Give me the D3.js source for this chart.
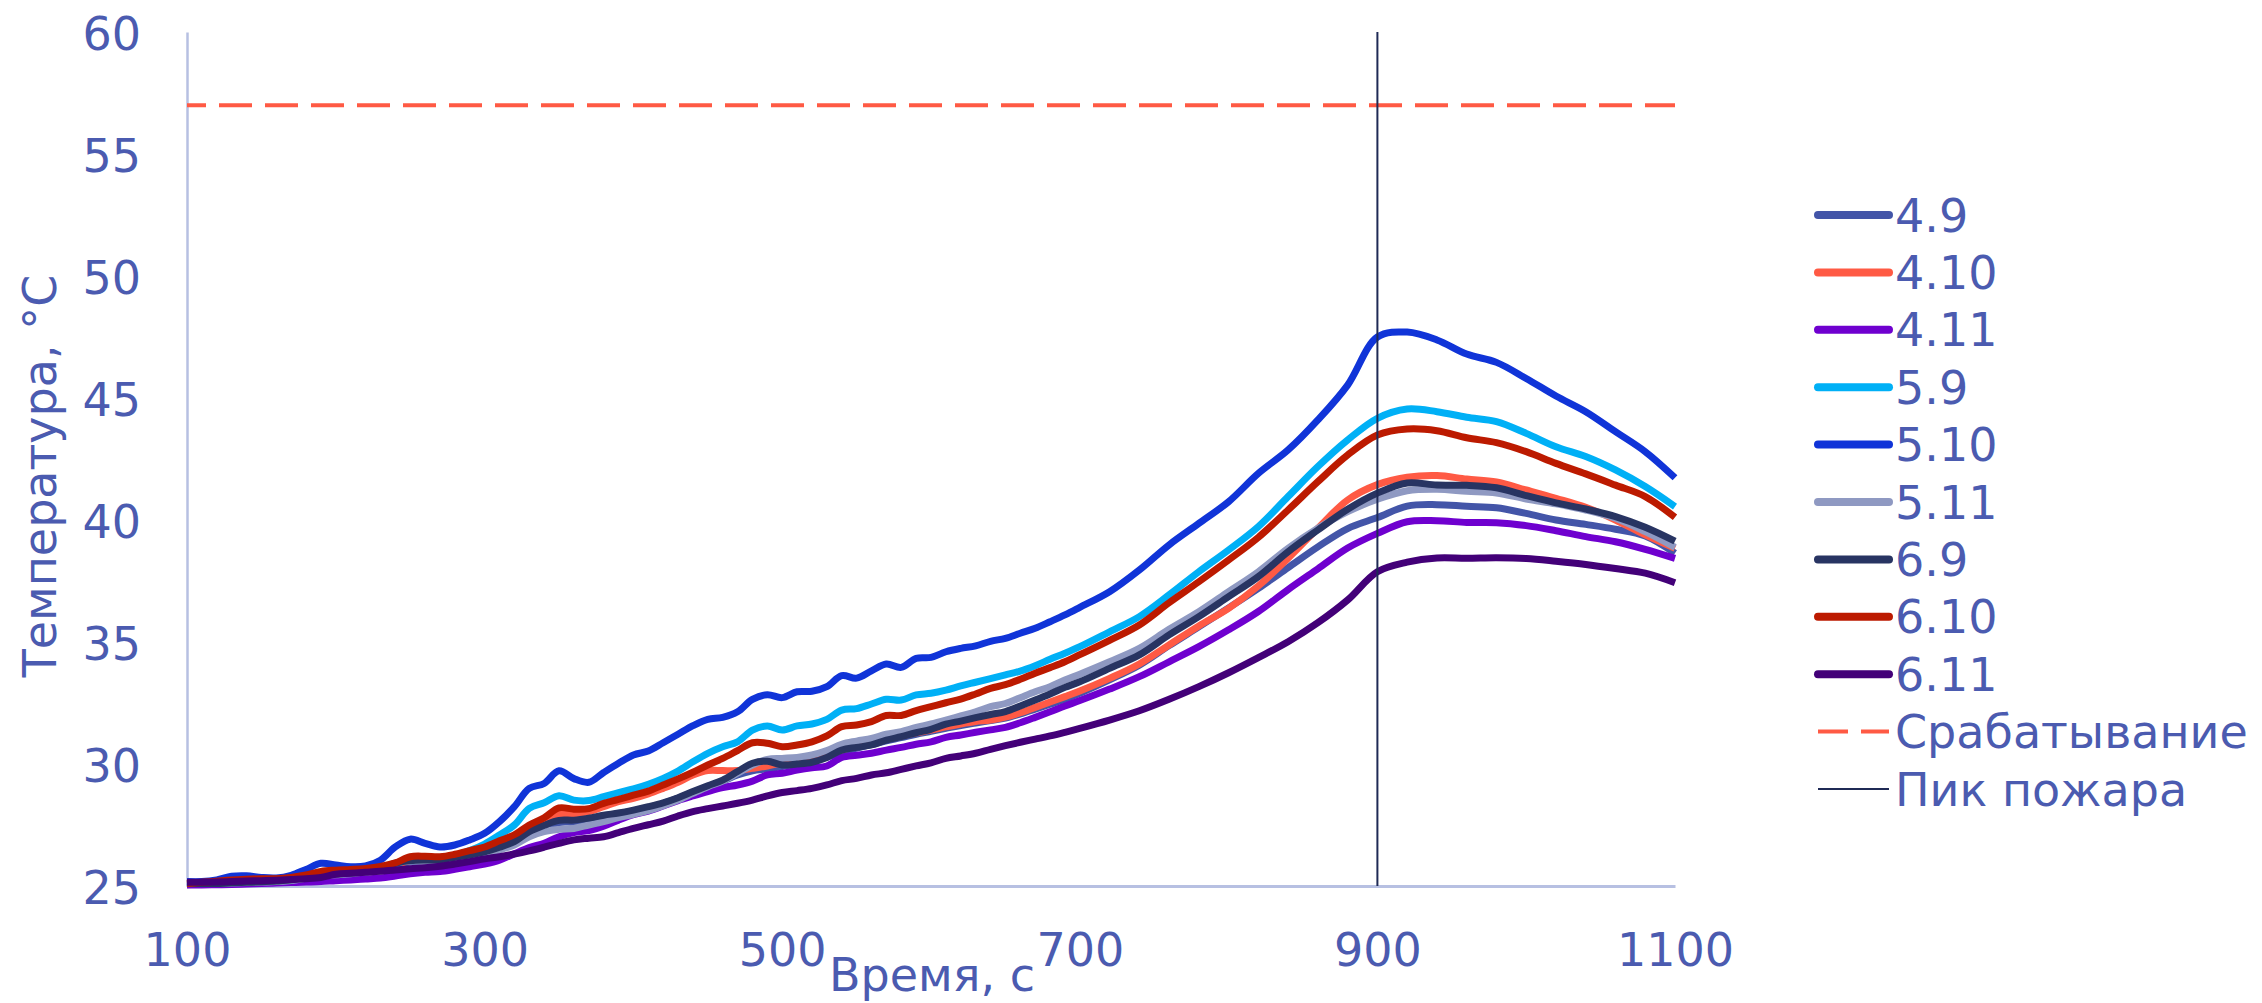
<!DOCTYPE html>
<html><head><meta charset="utf-8">
<script src="https://cdn.jsdelivr.net/npm/d3@7"></script>
<style>html,body{margin:0;padding:0;background:#fff;} svg{display:block;}</style>
</head><body><svg id="c" width="2262" height="1003"></svg>
<script>
// ---- data ----
const times = [100,110,120,130,140,150,160,170,180,190,
  200,210,220,230,240,250,260,270,280,290,
  300,310,320,330,340,350,360,370,380,390,
  400,410,420,430,440,450,460,470,480,490,
  500,510,520,530,540,550,560,570,580,590,
  600,610,620,630,640,650,660,670,680,690,
  700,720,740,760,780,800,820,840,860,880,
  900,920,940,960,980,1000,1020,1040,1060,1080,
  1100];

const seriesNames = ["4.9","4.10","4.11","5.9","5.10","5.11","6.9","6.10","6.11"];
const seriesColors = ["#4355A8","#FF5A44","#6F00CF","#00B0F6","#1034D8","#8F99C2","#283462","#BC1A00","#430078"];

const s49 = [25.12,25.12,25.13,25.15,25.17,25.18,25.20,25.24,25.33,25.43,
  25.47,25.50,25.57,25.68,25.85,25.98,26.02,26.03,26.12,26.22,
  26.35,26.52,26.75,27.10,27.35,27.60,27.62,27.70,27.85,27.97,
  28.08,28.22,28.38,28.60,28.84,29.08,29.30,29.55,29.72,29.80,
  29.90,30.00,30.12,30.28,30.48,30.65,30.80,30.95,31.08,31.22,
  31.34,31.46,31.58,31.68,31.78,31.88,32.05,32.25,32.45,32.65,
  32.90,33.45,34.05,34.85,35.62,36.40,37.20,38.05,38.90,39.65,
  40.10,40.57,40.63,40.56,40.50,40.27,40.00,39.82,39.62,39.34,
  38.64];
const s410 = [25.05,25.08,25.12,25.18,25.22,25.25,25.25,25.30,25.38,25.50,
  25.58,25.62,25.65,25.72,25.85,26.05,26.10,26.10,26.20,26.35,
  26.50,26.70,26.95,27.30,27.60,27.95,27.95,28.05,28.25,28.46,
  28.59,28.77,29.00,29.25,29.55,29.73,29.73,29.73,29.82,29.92,
  30.05,30.14,30.25,30.40,30.57,30.74,30.87,31.02,31.15,31.28,
  31.39,31.52,31.64,31.74,31.80,31.92,32.10,32.32,32.54,32.76,
  32.99,33.51,34.10,34.88,35.66,36.38,37.30,38.43,39.66,40.82,
  41.45,41.75,41.82,41.68,41.56,41.23,40.89,40.52,40.00,39.39,
  38.84];
const s411 = [25.04,25.04,25.05,25.06,25.08,25.10,25.12,25.14,25.16,25.18,
  25.22,25.25,25.29,25.33,25.41,25.50,25.56,25.59,25.68,25.79,
  25.90,26.06,26.32,26.58,26.75,27.02,27.19,27.27,27.45,27.70,
  27.92,28.07,28.28,28.50,28.69,28.87,29.03,29.14,29.30,29.55,
  29.62,29.75,29.85,29.92,30.27,30.36,30.44,30.57,30.68,30.81,
  30.91,31.09,31.19,31.30,31.40,31.50,31.69,31.91,32.14,32.38,
  32.60,33.07,33.58,34.19,34.81,35.50,36.25,37.15,38.00,38.85,
  39.45,39.93,39.97,39.90,39.89,39.77,39.56,39.32,39.11,38.80,
  38.43];
const s59 = [25.10,25.12,25.18,25.22,25.25,25.27,25.28,25.32,25.42,25.55,
  25.60,25.62,25.66,25.75,25.90,26.10,26.15,26.15,26.25,26.45,
  26.72,27.09,27.50,28.18,28.41,28.70,28.52,28.50,28.66,28.83,
  28.98,29.17,29.41,29.71,30.09,30.44,30.71,30.91,31.39,31.56,
  31.39,31.56,31.64,31.83,32.21,32.27,32.46,32.65,32.62,32.83,
  32.90,33.03,33.20,33.35,33.50,33.65,33.81,34.03,34.29,34.54,
  34.81,35.42,36.04,36.93,37.88,38.77,39.73,40.96,42.19,43.28,
  44.17,44.55,44.44,44.21,44.03,43.55,43.00,42.60,42.05,41.37,
  40.55];
const s510 = [25.18,25.18,25.25,25.40,25.42,25.35,25.33,25.44,25.68,25.93,
  25.86,25.79,25.82,26.06,26.60,26.92,26.75,26.60,26.68,26.89,
  27.16,27.64,28.25,29.00,29.20,29.72,29.40,29.25,29.65,30.03,
  30.37,30.53,30.87,31.22,31.57,31.83,31.91,32.14,32.65,32.84,
  32.72,32.96,32.98,33.17,33.62,33.52,33.82,34.10,33.96,34.33,
  34.37,34.60,34.74,34.84,35.03,35.15,35.36,35.56,35.83,36.11,
  36.42,37.06,37.95,38.98,39.86,40.75,41.91,42.87,44.10,45.53,
  47.50,47.70,47.38,46.80,46.46,45.80,45.08,44.44,43.62,42.80,
  41.73];
const s511 = [25.11,25.10,25.10,25.12,25.14,25.16,25.18,25.22,25.32,25.42,
  25.46,25.50,25.58,25.70,25.95,26.02,26.00,26.00,26.10,26.20,
  26.27,26.48,26.68,27.02,27.23,27.32,27.36,27.50,27.64,27.80,
  27.94,28.09,28.29,28.52,28.80,29.07,29.30,29.62,29.96,30.19,
  30.23,30.27,30.37,30.55,30.81,30.94,31.05,31.22,31.33,31.50,
  31.64,31.80,31.97,32.14,32.35,32.48,32.72,32.96,33.17,33.44,
  33.68,34.19,34.74,35.52,36.24,37.06,37.88,38.84,39.66,40.34,
  40.85,41.20,41.26,41.18,41.11,40.86,40.66,40.41,40.07,39.52,
  38.88];
const s69 = [25.11,25.10,25.10,25.13,25.15,25.17,25.20,25.25,25.36,25.45,
  25.49,25.53,25.61,25.72,25.93,26.04,26.07,26.07,26.18,26.27,
  26.40,26.59,26.82,27.23,27.49,27.69,27.70,27.78,27.90,27.99,
  28.11,28.25,28.41,28.62,28.87,29.11,29.34,29.69,30.03,30.11,
  29.96,30.00,30.07,30.27,30.57,30.68,30.78,30.98,31.12,31.28,
  31.42,31.63,31.76,31.90,32.03,32.15,32.38,32.62,32.87,33.14,
  33.37,33.92,34.47,35.29,36.04,36.86,37.68,38.70,39.59,40.44,
  41.10,41.52,41.43,41.42,41.32,41.00,40.70,40.45,40.14,39.70,
  39.13];
const s610 = [25.10,25.15,25.20,25.25,25.28,25.30,25.30,25.35,25.45,25.60,
  25.65,25.68,25.72,25.80,25.95,26.20,26.22,26.20,26.30,26.45,
  26.60,26.85,27.10,27.50,27.80,28.20,28.15,28.17,28.39,28.55,
  28.72,28.89,29.14,29.39,29.66,29.96,30.23,30.55,30.87,30.85,
  30.71,30.78,30.91,31.15,31.53,31.60,31.74,31.99,31.99,32.19,
  32.35,32.51,32.66,32.87,33.10,33.25,33.47,33.72,33.95,34.19,
  34.48,35.07,35.70,36.61,37.47,38.36,39.29,40.41,41.57,42.66,
  43.48,43.73,43.66,43.37,43.17,42.80,42.32,41.89,41.43,40.96,
  40.11];
const s611 = [25.15,25.15,25.16,25.18,25.20,25.22,25.24,25.27,25.30,25.35,
  25.48,25.52,25.56,25.60,25.66,25.71,25.75,25.81,25.90,26.00,
  26.11,26.20,26.31,26.44,26.59,26.75,26.89,26.96,27.02,27.19,
  27.36,27.51,27.66,27.87,28.05,28.17,28.28,28.39,28.52,28.69,
  28.83,28.91,29.00,29.14,29.32,29.41,29.55,29.64,29.78,29.92,
  30.05,30.23,30.33,30.44,30.60,30.75,30.89,31.02,31.15,31.30,
  31.46,31.80,32.18,32.65,33.17,33.74,34.36,35.01,35.79,36.72,
  37.88,38.27,38.44,38.43,38.45,38.42,38.31,38.18,38.01,37.82,
  37.43];

const xTicks = [100,300,500,700,900,1100];
const yTicks = [25,30,35,40,45,50,55,60];
const thresholdValue = 57;
const thresholdLabel = "Срабатывание";
const thresholdColor = "#FF5A44";
const peakTime = 900;
const peakLabel = "Пик пожара";
const peakColor = "#1F2A55";
const xTitle = "Время, с";
const yTitle = "Температура, °C";

// ---- drawing ----
const seriesValues = [s49,s410,s411,s59,s510,s511,s69,s610,s611];
const FONT = "'DejaVu Sans', Verdana, sans-serif";
const TEXT = "#4B5BB0";
const AXIS = "#B7C0E2";

const svg = d3.select("#c");
const x = d3.scaleLinear().domain([100,1100]).range([187,1675]);
const y = d3.scaleLinear().domain([25,60]).range([886,32]);

// axes
const gy = svg.append("g").attr("transform","translate(187,0)")
  .call(d3.axisLeft(y).tickValues(yTicks).tickSize(0).tickSizeOuter(0).tickPadding(46).tickFormat(d3.format("d")));
gy.select(".domain").attr("stroke",AXIS).attr("stroke-width",2.5);
gy.selectAll("text").attr("font-family",FONT).attr("font-size",46).attr("fill",TEXT).attr("dy","0.37em");

const gx = svg.append("g").attr("transform","translate(0,886)")
  .call(d3.axisBottom(x).tickValues(xTicks).tickSize(0).tickSizeOuter(0).tickPadding(47).tickFormat(d3.format("d")));
gx.select(".domain").attr("stroke",AXIS).attr("stroke-width",3);
gx.selectAll("text").attr("font-family",FONT).attr("font-size",46).attr("fill",TEXT);

// axis titles
svg.append("text").attr("x",932).attr("y",991)
  .attr("text-anchor","middle").attr("font-family",FONT).attr("font-size",46).attr("fill",TEXT).text(xTitle);
svg.append("text").attr("transform","translate(56,476) rotate(-90)")
  .attr("text-anchor","middle").attr("font-family",FONT).attr("font-size",46).attr("fill",TEXT).text(yTitle);

// threshold line
svg.append("line").attr("x1",x(100)).attr("x2",x(1100)).attr("y1",y(thresholdValue)).attr("y2",y(thresholdValue))
  .attr("stroke",thresholdColor).attr("stroke-width",4).attr("stroke-dasharray","33 13").attr("stroke-dashoffset",14);

// series
const line = d3.line().x((d,i)=>x(times[i])).y(d=>y(d)).curve(d3.curveCatmullRom.alpha(0.5));
seriesValues.forEach((vals,k)=>{
  svg.append("path").attr("d",line(vals)).attr("fill","none")
    .attr("stroke",seriesColors[k]).attr("stroke-width",7)
    .attr("stroke-linejoin","round").attr("stroke-linecap","butt");
});

// peak line
svg.append("line").attr("x1",x(peakTime)).attr("x2",x(peakTime)).attr("y1",y(60)).attr("y2",y(25))
  .attr("stroke",peakColor).attr("stroke-width",2);

// legend
const legY0 = 215, legDY = 57.4, lx1 = 1818, lx2 = 1889, tx = 1895;
const legendItems = seriesNames.map((n,i)=>({name:n,color:seriesColors[i],type:"solid"}))
  .concat([{name:thresholdLabel,color:thresholdColor,type:"dash"},{name:peakLabel,color:peakColor,type:"thin"}]);
legendItems.forEach((it,i)=>{
  const yy = legY0 + i*legDY;
  const ln = svg.append("line").attr("x1",lx1).attr("x2",lx2).attr("y1",yy).attr("y2",yy).attr("stroke",it.color);
  if(it.type==="solid") ln.attr("stroke-width",8).attr("stroke-linecap","round");
  else if(it.type==="dash") ln.attr("stroke-width",4).attr("stroke-dasharray","30 13");
  else ln.attr("stroke-width",2);
  svg.append("text").attr("x",tx).attr("y",yy).attr("dy","0.36em")
    .attr("font-family",FONT).attr("font-size",46).attr("fill",TEXT).text(it.name);
});
</script>
</body></html>
